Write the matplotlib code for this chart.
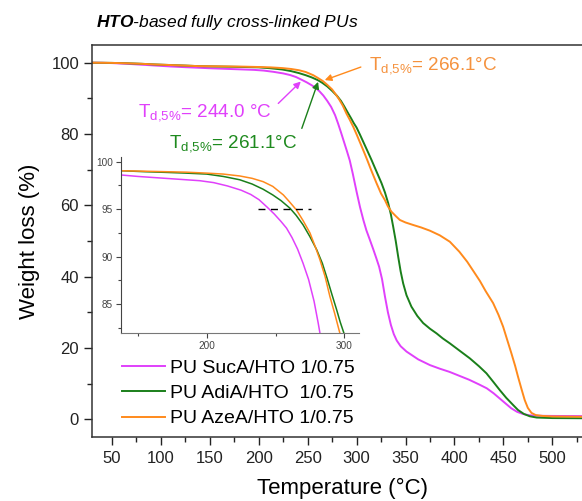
import matplotlib
matplotlib.use('Agg')
import matplotlib.pyplot as plt
from matplotlib.ticker import MultipleLocator

plt.rcParams['font.family'] = ['Liberation Sans', 'DejaVu Sans']
plt.rcParams['mathtext.fontset'] = 'custom'
plt.rcParams['mathtext.rm'] = 'Liberation Sans'
plt.rcParams['mathtext.it'] = 'Liberation Sans:italic'
plt.rcParams['mathtext.bf'] = 'Liberation Sans:bold'
plt.rcParams['mathtext.bfit'] = 'Liberation Sans:italic:bold'

# TGA curves (temperature in C, weight in %)
T_suc = [30, 40, 50, 65, 80, 95, 110, 125, 138, 150, 165, 180, 195, 205, 215, 225, 232, 238,
         244, 249, 254, 258, 262, 266, 270, 274, 278, 281, 284, 287, 290, 293, 296, 300,
         303.5, 307, 310, 313.6, 317, 320, 323, 326, 329, 332, 335, 338, 341, 345, 351, 357,
         363, 375, 385, 395, 405, 415, 425, 433, 440, 446, 452, 458, 464, 470, 476, 484,
         500, 531]
W_suc = [100, 99.98, 99.9, 99.7, 99.45, 99.2, 98.95, 98.75, 98.6, 98.45, 98.3, 98.15, 98.0, 97.8,
         97.45, 97.0, 96.55, 96.0, 95.2, 94.5, 93.7, 93.0, 92.0, 90.8, 89.3, 87.6, 85.3, 83.0,
         80.5, 77.9, 75.3, 72.6, 69.0, 63.8, 59.5, 55.8, 53.0, 50.3, 47.7, 45.3, 42.8, 39.3,
         34.4, 30.0, 26.5, 23.9, 22.1, 20.5, 19.0, 17.9, 16.8, 15.2, 14.2, 13.3, 12.2, 11.1,
         9.8, 8.7, 7.3, 5.9, 4.5, 3.1, 2.1, 1.5, 1.15, 1.0, 0.95, 0.9]

T_adi = [30, 40, 50, 65, 80, 95, 110, 125, 138, 155, 170, 185, 200, 212, 224, 233, 241, 248,
         254, 260.5, 265, 270, 275, 280, 284, 287.5, 291, 294.4, 297, 300, 303.5, 307, 311,
         315.3, 320, 325.5, 329, 332.3, 335, 337.4, 340, 342.5, 345, 347.6, 351, 356, 362,
         368, 375, 381.7, 388, 395.3, 405, 415.7, 425, 432.7, 440, 446.3, 453, 460, 465, 471,
         477, 484, 500, 531]
W_adi = [100, 99.98, 99.95, 99.85, 99.7, 99.5, 99.35, 99.2, 99.05, 98.95, 98.88, 98.8, 98.7,
         98.45, 98.1, 97.65, 97.1, 96.5, 95.9, 95.1, 94.35, 93.35, 92.1, 90.7, 89.3, 87.7,
         86.0, 84.4, 83.1, 81.8, 79.8, 77.7, 75.3, 72.7, 69.7, 66.2, 63.6, 60.6, 57.5, 54.0,
         50.0, 45.6, 41.5, 38.1, 34.8, 31.6, 29.0, 27.0, 25.4, 24.1, 22.7, 21.3, 19.3, 17.1,
         14.9, 12.9, 10.4, 8.2, 6.0, 4.0, 2.6, 1.5, 0.85, 0.5, 0.35, 0.3]

T_aze = [30, 40, 50, 65, 80, 95, 110, 125, 138, 155, 170, 185, 200, 212, 224, 233, 241, 248,
         255.7, 260, 265.3, 270, 275, 279, 282.2, 286, 289.5, 293, 296.8, 300, 304, 307.5,
         310.9, 315, 320.4, 325, 328.9, 332, 335.7, 340, 344.2, 350, 357.8, 366, 374.9, 385,
         395.3, 405, 413, 420, 426, 432, 439.5, 445, 449.7, 454, 458.2, 462, 465, 468.5,
         471.8, 475, 478.7, 483, 490, 500, 531]
W_aze = [100, 99.98, 99.95, 99.85, 99.7, 99.5, 99.35, 99.2, 99.05, 99.0, 98.95, 98.9, 98.8,
         98.7, 98.5, 98.25, 97.9, 97.4, 96.5, 95.8, 94.9, 93.8, 92.5, 91.0, 89.7, 87.9, 85.8,
         84.0, 81.9, 79.9, 77.3, 75.0, 72.7, 69.8, 66.2, 63.3, 61.5, 59.7, 58.2, 57.0, 55.9,
         55.2, 54.5, 53.8, 52.9, 51.6, 49.8, 47.0, 44.2, 41.3, 38.8, 35.9, 32.6, 29.3, 26.0,
         22.2, 18.5, 15.0, 11.9, 8.5, 5.4, 3.2, 1.8, 1.2, 0.95, 0.8, 0.7]

labels = ['PU SucA/HTO 1/0.75', 'PU AdiA/HTO  1/0.75', 'PU AzeA/HTO 1/0.75']
colors = ['#E040FB', '#1A7F1A', '#FF8A1C']
text_colors = ['#E040FB', '#1E8A1E', '#F5923E']
td5 = [244.0, 261.1, 266.1]
td_labels = ['244.0 °C', '261.1°C', '266.1°C']

series = [(T_suc, W_suc), (T_adi, W_adi), (T_aze, W_aze)]

fig = plt.figure(figsize=(5.82, 5.01), dpi=100)
ax = fig.add_axes([0.1586, 0.1271, 0.861, 0.783])

for (t, w), c, lab in zip(series, colors, labels):
    ax.plot(t, w, color=c, lw=1.4, label=lab)

ax.set_xlim(29.9, 542)
ax.set_ylim(-5.05, 104.96)
ax.xaxis.set_major_locator(MultipleLocator(50))
ax.xaxis.set_minor_locator(MultipleLocator(25))
ax.yaxis.set_major_locator(MultipleLocator(20))
ax.yaxis.set_minor_locator(MultipleLocator(10))
ax.tick_params(which='major', direction='out', length=6, width=1, labelsize=12, colors='#222222')
ax.tick_params(which='minor', direction='out', length=3.5, width=1, colors='#222222')
for s in ax.spines.values():
    s.set_color('#333333')
    s.set_linewidth(1.1)
ax.set_xlabel('Temperature (°C)', fontsize=16, labelpad=9)
ax.set_ylabel('Weight loss (%)', fontsize=16, labelpad=8)

# Td,5% annotations, arrows leave the text from its side
text_pos = [(76.6, 85.05), (108.2, 76.2), (312.5, 98.2)]
arrow_start = [(1.0, 0.6), (1.0, 0.6), (0.0, 0.55)]
for temp, lab, tc, c, pos, rp in zip(td5, td_labels, text_colors, colors, text_pos, arrow_start):
    ax.annotate('$\\mathregular{T_{d{,}5\\%}}$= ' + lab, xy=(temp, 95), xytext=pos,
                textcoords='data', ha='left', va='baseline', fontsize=13.6, color=tc,
                arrowprops=dict(arrowstyle='-|>', color=c, lw=1, mutation_scale=10,
                                shrinkA=4, shrinkB=1, relpos=rp))

ax.legend(loc='upper left', bbox_to_anchor=(122 / 582, 1 - 359 / 501),
          bbox_transform=fig.transFigure, frameon=False, borderaxespad=0, borderpad=0,
          handlelength=2.2, handletextpad=0.25, labelspacing=0.4, fontsize=14)

# inset zoom of the onset
ins = fig.add_axes([0.2074, 0.3347, 0.41, 0.3525])
ins.patch.set_alpha(0)
for (t, w), c in zip(series, colors):
    ins.plot(t, w, color=c, lw=1.1)
ins.plot([237.5, 275.6], [95, 95], color='black', lw=1, ls=(0, (5, 4)))
ins.set_xlim(137.5, 310.9)
ins.set_ylim(81.91, 100.53)
ins.xaxis.set_major_locator(MultipleLocator(100))
ins.xaxis.set_minor_locator(MultipleLocator(50))
ins.yaxis.set_major_locator(MultipleLocator(5))
ins.yaxis.set_minor_locator(MultipleLocator(2.5))
ins.spines['top'].set_visible(False)
ins.spines['right'].set_visible(False)
ins.spines['left'].set_color('#444444')
ins.spines['bottom'].set_color('#777777')
ins.tick_params(which='major', direction='out', length=3.5, width=0.8, labelsize=7.2,
                colors='#444444', pad=2)
ins.tick_params(which='minor', direction='out', length=2, width=0.8, colors='#444444')

fig.text(96 / 582, 0.956, '$\\mathbfit{HTO}$-based fully cross-linked PUs', fontsize=12.5,
         style='italic', ha='left', va='center')

fig.savefig('out.png', dpi=100)
